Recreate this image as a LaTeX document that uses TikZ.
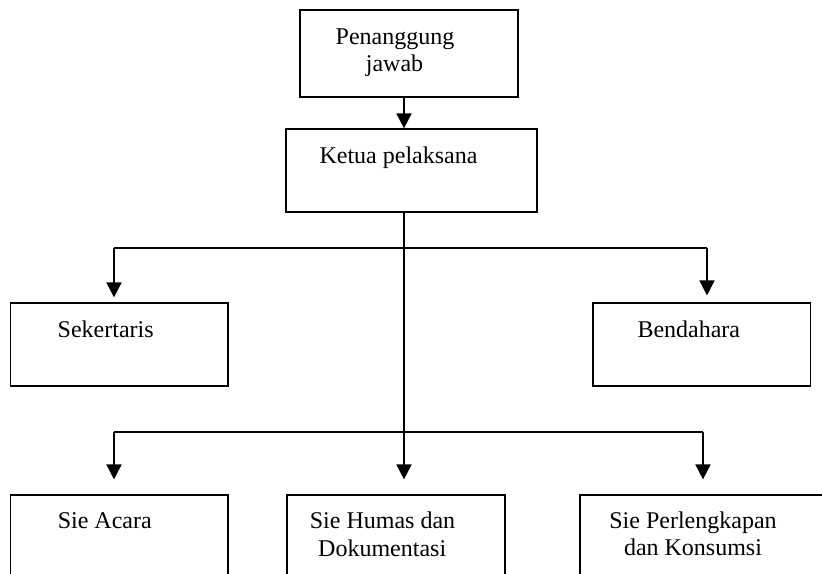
\documentclass[tikz,border=0pt]{standalone}
\usepackage{fontspec}
\setmainfont{Liberation Serif}
\usetikzlibrary{arrows.meta}
\begin{document}
\begin{tikzpicture}[x=1pt,y=-1pt,
  box/.style={draw, line width=1.2pt, inner sep=0pt},
  lbl/.style={anchor=base, inner sep=0pt, font=\fontsize{24}{27}\selectfont},
  conn/.style={line width=1.8pt},
  arr/.style={conn, -{Triangle[length=15pt,width=15pt]}},
]
\useasboundingbox (0,0) rectangle (822,573);
\clip (0,0) rectangle (822,573);

% boxes
\node[box, minimum width=218pt, minimum height=87pt] (top) at (409,53.5) {};
\node[box, minimum width=251pt, minimum height=83pt] (ketua) at (411.5,170.5) {};
\node[box, minimum width=217.5pt, minimum height=83pt] (sek) at (119.25,344.5) {};
\node[box, minimum width=217.5pt, minimum height=83pt] (ben) at (701.8,344.5) {};
\node[box, minimum width=217.5pt, minimum height=83pt] (acara) at (119.25,536.5) {};
\node[box, minimum width=218pt, minimum height=83pt] (humas) at (396,536.5) {};
\node[box, minimum width=260pt, minimum height=83pt] (perl) at (710,536.5) {};

% labels
\node[lbl] (t1a) at (395,44) {Penanggung};
\node[lbl] (t1b) at (394.5,71) {jawab};
\node[lbl] (t2) at (398.5,163) {Ketua pelaksana};
\node[lbl] (t3) at (105.7,337) {Sekertaris};
\node[lbl] (t4) at (688.8,337) {Bendahara};
\node[lbl] (t5) at (104.8,528) {Sie Acara};
\node[lbl] (t6a) at (382.5,528) {Sie Humas dan};
\node[lbl] (t6b) at (382.2,556) {Dokumentasi};
\node[lbl] (t7a) at (693,528) {Sie Perlengkapan};
\node[lbl] (t7b) at (693,555.5) {dan Konsumsi};

% junctions
\coordinate (cx) at (404,0);
\coordinate (h1l) at (114,248);
\coordinate (h1r) at (707,248);
\coordinate (h2l) at (114,432);
\coordinate (h2r) at (703,432);

% connectors
\draw[arr] (top.south -| cx) -- (ketua.north -| cx);
\draw[arr, shorten >=15pt] (ketua.south -| cx) -- (humas.north -| cx);
\draw[conn] (h1l) -- (h1r);
\draw[arr, shorten >=5pt] (h1l) -- (sek.north -| h1l);
\draw[arr, shorten >=7pt] (h1r) -- (ben.north -| h1r);
\draw[conn] (h2l) -- (h2r);
\draw[arr, shorten >=15pt] (h2l) -- (acara.north -| h2l);
\draw[arr, shorten >=15pt] (h2r) -- (perl.north -| h2r);
\end{tikzpicture}
\end{document}
